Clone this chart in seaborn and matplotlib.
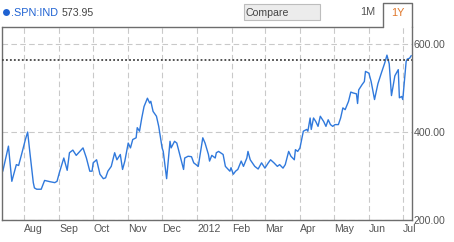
import numpy as np
import pandas as pd
import matplotlib
matplotlib.use("Agg")
import matplotlib.pyplot as plt
import matplotlib.dates as mdates
from matplotlib.lines import Line2D
from matplotlib.patches import Rectangle
import seaborn as sns

# ---- data ----
base_date = "2011-08-01"
days_from_aug1 = [-20, -19, -14, -11, -7, -5, -2, 1, 3, 5, 8, 9, 11, 15, 18, 23, 27, 29, 31, 35,
                  38, 40, 43, 46, 52, 55, 58, 60, 61, 64, 67, 70, 72, 74, 77, 80, 82, 85, 87, 89,
                  92, 94, 96, 99, 100, 102, 104, 106, 109, 111, 112, 114, 117, 119, 122, 123, 126, 129, 130, 133,
                  135, 138, 141, 142, 145, 148, 150, 154, 158, 160, 163, 164, 166, 169, 170, 172, 176, 178, 182, 183,
                  185, 187, 189, 192, 194, 197, 198, 200, 204, 207, 210, 212, 213, 216, 218, 221, 224, 226, 229, 231,
                  234, 236, 239, 240, 242, 244, 247, 250, 251, 253, 254, 256, 258, 260, 262, 265, 267, 269, 271, 273,
                  275, 278, 280, 282, 284, 287, 289, 291, 294, 295, 296, 299, 301, 302, 305, 307, 310, 313, 316, 319,
                  321, 323, 325, 328, 331, 332, 334, 335, 338, 339, 341, 342.5]
values = [315, 311, 368, 288, 326, 324, 353, 383, 400, 353, 285, 273, 270, 270, 290, 287, 285, 288, 307, 341,
          313, 353, 359, 347, 364, 341, 311, 311, 330, 337, 304, 294, 296, 311, 322, 353, 337, 349, 315, 334,
          375, 364, 383, 387, 410, 402, 432, 458, 477, 466, 470, 447, 436, 413, 364, 356, 294, 379, 364, 379,
          375, 345, 315, 341, 345, 344, 330, 322, 387, 375, 349, 334, 347, 341, 353, 356, 349, 322, 311, 319,
          304, 311, 315, 334, 322, 341, 356, 337, 322, 316, 330, 322, 318, 330, 337, 330, 322, 326, 318, 326,
          356, 345, 337, 360, 356, 364, 402, 406, 402, 432, 406, 432, 424, 413, 436, 424, 413, 428, 417, 413,
          417, 417, 432, 455, 451, 470, 491, 489, 487, 465, 496, 508, 515, 538, 534, 515, 474, 510, 534, 557,
          575, 555, 483, 528, 542, 478, 481, 474, 561, 566, 568, 573.95]
ref_level = 565
y_ticks = [200, 400, 600]
ticker_name = ".SPN:IND"
last_value = "573.95"
range_buttons = ["1M", "1Y"]

W, H = 454, 242
df = pd.DataFrame({
    "date": pd.Timestamp(base_date) + pd.to_timedelta(days_from_aug1, unit="D"),
    "value": values,
})

sns.set_style("white")
plt.rcParams["font.family"] = ["Liberation Sans", "DejaVu Sans"]

fig = plt.figure(figsize=(W / 100, H / 100), dpi=100)
fig.patch.set_facecolor("white")

def fx(px):
    return px / W

def fy(py):
    return 1 - py / H

ax_l, ax_r, ax_t, ax_b = 2, 411.7, 27, 220
ax = fig.add_axes([fx(ax_l), fy(ax_b), fx(ax_r) - fx(ax_l), fy(ax_t) - fy(ax_b)])

sns.lineplot(data=df, x="date", y="value", ax=ax, color="#3079dc", linewidth=1.0)
ax.axhline(ref_level, color="#444444", linestyle=(0, (1, 1.2)), linewidth=1.3, zorder=3)

base = pd.Timestamp(base_date)
ax.set_xlim(base + pd.Timedelta(days=-19.7), base + pd.Timedelta(days=342.9))
ax.set_ylim(200, 639)
ax.set_xlabel("")
ax.set_ylabel("")

# ticks
ax.xaxis.set_major_locator(mdates.MonthLocator())
ax.xaxis.set_major_formatter(plt.FuncFormatter(
    lambda v, p: mdates.num2date(v).strftime("%Y") if mdates.num2date(v).month == 1 else mdates.num2date(v).strftime("%b")))
ax.yaxis.tick_right()
ax.set_yticks(y_ticks)
ax.set_yticklabels([f"{t:.2f}" for t in y_ticks])
ax.tick_params(axis="both", length=0, labelsize=7.6, colors="#555555")
ax.tick_params(axis="x", pad=3)
ax.tick_params(axis="y", pad=1.5)
for t in ax.get_xticklabels():
    t.set_ha("left")

ax.grid(True, linestyle=(0, (5, 3)), color="#c9c9c9", linewidth=0.8)
ax.set_axisbelow(True)

for s in ["left", "bottom", "right"]:
    ax.spines[s].set_color("#6d6d6d")
    ax.spines[s].set_linewidth(1.0)
ax.spines["top"].set_visible(False)

# top border and 1Y tab
line_col = "#6d6d6d"
fig.add_artist(Line2D([fx(ax_l), fx(383.3)], [fy(27), fy(27)], color=line_col, lw=1.0))
fig.add_artist(Line2D([fx(383.3), fx(383.3), fx(ax_r), fx(ax_r)],
                      [fy(27), fy(2.5), fy(2.5), fy(27)], color=line_col, lw=1.0))
fig.text(fx(397.5), fy(13), range_buttons[1], color="#e0772a", fontsize=7.8, ha="center", va="center")
fig.text(fx(367.5), fy(12), range_buttons[0], color="#555555", fontsize=7.8, ha="center", va="center")

# Compare box
fig.add_artist(Rectangle((fx(243.5), fy(20)), fx(320) - fx(243.5), fy(3.5) - fy(20),
                         facecolor="#ececec", edgecolor="#bdbdbd", lw=0.8))
fig.text(fx(246), fy(12.5), "Compare", color="#444444", fontsize=7.6, ha="left", va="center")

# legend
fig.add_artist(Line2D([fx(6)], [fy(12)], marker="o", markersize=5, color="#1f62d2",
                      markeredgewidth=0, linestyle="none"))
fig.text(fx(11.5), fy(12.5), ticker_name, color="#1f62d2", fontsize=7.8, ha="left", va="center")
fig.text(fx(62), fy(12.5), last_value, color="#444444", fontsize=7.6, ha="left", va="center")

fig.savefig("out.png", dpi=100, facecolor="white")
